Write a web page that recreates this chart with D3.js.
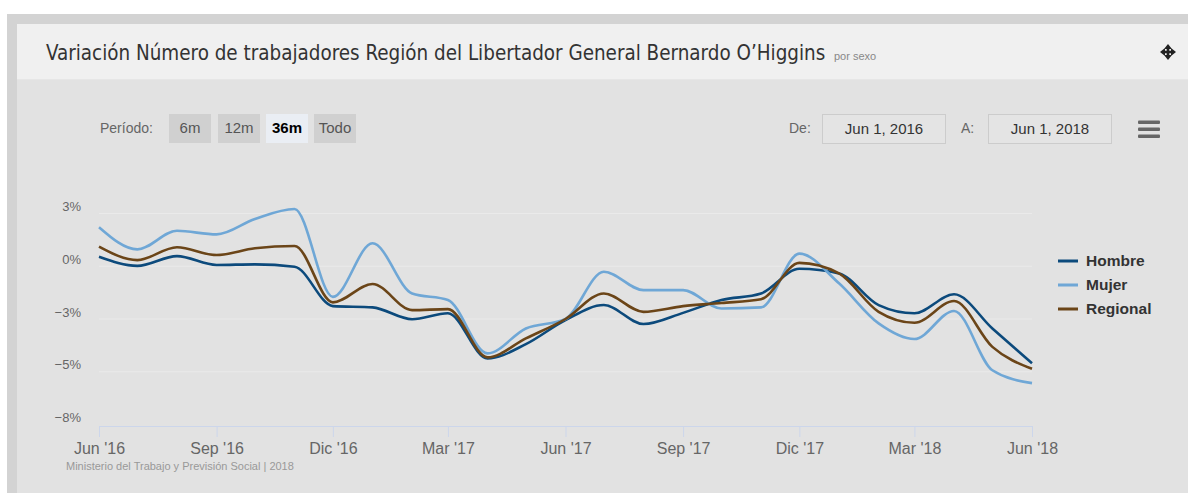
<!DOCTYPE html>
<html>
<head>
<meta charset="utf-8">
<script src="https://cdn.jsdelivr.net/npm/d3@7"></script>
<style>
  body { margin: 0; background: #fff; }
  svg { display: block; font-family: "Liberation Sans", Arial, sans-serif; }
</style>
</head>
<body>
<svg id="chart" width="1188" height="493"></svg>
<script>
const width = 1188, height = 493;
const svg = d3.select("#chart");

// data (monthly variation, %)
const months = ["2016-06","2016-07","2016-08","2016-09","2016-10","2016-11","2016-12",
  "2017-01","2017-02","2017-03","2017-04","2017-05","2017-06","2017-07","2017-08",
  "2017-09","2017-10","2017-11","2017-12","2018-01","2018-02","2018-03","2018-04",
  "2018-05","2018-06"];
const hombre   = [0.45, 0.02, 0.48, 0.06, 0.09, -0.02, -1.89, -1.95, -2.51, -2.23, -4.37, -3.69, -2.55,
  -1.84, -2.74, -2.21, -1.60, -1.29, -0.12, -0.34, -1.84, -2.23, -1.33, -2.95, -4.60];
const mujer    = [1.85, 0.80, 1.68, 1.51, 2.24, 2.71, -1.45, 1.09, -1.29, -1.60, -4.13, -2.95, -2.50,
  -0.26, -1.13, -1.13, -2.00, -1.95, 0.60, -0.81, -2.71, -3.45, -2.12, -4.93, -5.54];
const regional = [0.93, 0.29, 0.90, 0.53, 0.85, 0.96, -1.71, -0.84, -2.08, -2.03, -4.32, -3.42, -2.50,
  -1.29, -2.16, -1.89, -1.74, -1.56, 0.16, -0.34, -2.16, -2.68, -1.65, -3.82, -4.86];

const seriesNames  = ["Hombre", "Mujer", "Regional"];
const seriesColors = ["#0c4a7c", "#6fa7d6", "#6b4518"];
const seriesValues = [hombre, mujer, regional];

const xTicks = ["2016-06","2016-09","2016-12","2017-03","2017-06","2017-09","2017-12","2018-03","2018-06"];
const xTickLabels = ["Jun '16","Sep '16","Dic '16","Mar '17","Jun '17","Sep '17","Dic '17","Mar '18","Jun '18"];
const yTicks = [2.5, 0, -2.5, -5, -7.5];
const yTickLabels = ["3%", "0%", "\u22123%", "\u22125%", "\u22128%"];

const parse = d3.timeParse("%Y-%m");

// frame
svg.append("rect").attr("x", 7).attr("y", 14).attr("width", width - 7).attr("height", height - 14).attr("fill", "#d3d3d3");
svg.append("rect").attr("x", 17).attr("y", 24).attr("width", width - 17).attr("height", height - 24).attr("fill", "#e2e2e2");
svg.append("rect").attr("x", 17).attr("y", 24).attr("width", width - 17).attr("height", 55).attr("fill", "#f0f0f0");
svg.append("line").attr("x1", 17).attr("x2", width).attr("y1", 79.5).attr("y2", 79.5).attr("stroke", "#e6e6e6");

// title (font size fitted to the reference width)
const title = svg.append("text").attr("x", 46).attr("y", 60)
  .attr("font-family", "'Liberation Sans Narrow', 'DejaVu Sans Condensed', sans-serif")
  .attr("font-size", 21).attr("fill", "#333")
  .text("Variación Número de trabajadores Región del Libertador General Bernardo O\u2019Higgins");
const tw = title.node().getComputedTextLength();
if (tw > 780) title.attr("font-size", 21 * 780 / tw);
svg.append("text").attr("x", 834).attr("y", 60).attr("font-size", 11).attr("fill", "#888").text("por sexo");

// move icon
const mv = svg.append("g").attr("transform", "translate(1168,52)").attr("fill", "#222");
mv.append("path").attr("d", "M0,-8 L4,-3 L1.3,-3 L1.3,-1.3 L3,-1.3 L3,-4 L8,0 L3,4 L3,1.3 L1.3,1.3 L1.3,3 L4,3 L0,8 L-4,3 L-1.3,3 L-1.3,1.3 L-3,1.3 L-3,4 L-8,0 L-3,-4 L-3,-1.3 L-1.3,-1.3 L-1.3,-3 L-4,-3 Z");

// range selector
svg.append("text").attr("x", 100).attr("y", 133).attr("font-size", 14).attr("fill", "#666").text("Período:");
const buttons = ["6m", "12m", "36m", "Todo"];
const btnX = [169, 218, 266, 314];
buttons.forEach((b, i) => {
  const active = b === "36m";
  svg.append("rect").attr("x", btnX[i]).attr("y", 114).attr("width", 42).attr("height", 29)
    .attr("fill", active ? "#eaeef4" : "#d0d0d0");
  svg.append("text").attr("x", btnX[i] + 21).attr("y", 133).attr("text-anchor", "middle")
    .attr("font-size", 15).attr("font-weight", active ? "bold" : "normal")
    .attr("fill", active ? "#000" : "#555").text(b);
});

svg.append("text").attr("x", 789).attr("y", 133).attr("font-size", 14).attr("fill", "#666").text("De:");
svg.append("text").attr("x", 961).attr("y", 133).attr("font-size", 14).attr("fill", "#666").text("A:");
[[822, "Jun 1, 2016"], [988, "Jun 1, 2018"]].forEach(([x, t]) => {
  svg.append("rect").attr("x", x + 0.5).attr("y", 114.5).attr("width", 123).attr("height", 29)
    .attr("fill", "#e4e4e4").attr("stroke", "#cccccc");
  svg.append("text").attr("x", x + 62).attr("y", 134).attr("text-anchor", "middle")
    .attr("font-size", 15).attr("fill", "#333").text(t);
});
[122, 129, 136].forEach(y => {
  svg.append("rect").attr("x", 1138).attr("y", y - 1.5).attr("width", 22).attr("height", 3.5)
    .attr("rx", 1).attr("fill", "#666");
});

// scales
const x = d3.scaleTime().domain([parse(months[0]), parse(months[months.length - 1])]).range([99, 1032]);
const y = d3.scaleLinear().domain([-7.5, 2.5]).range([424.5, 213.5]);

// grid + y labels
const grid = svg.append("g");
yTicks.forEach((v, i) => {
  if (v !== -7.5) {
    grid.append("line").attr("x1", 99).attr("x2", 1032).attr("y1", y(v)).attr("y2", y(v))
      .attr("stroke", "#eaeaea").attr("stroke-width", 1);
  }
  grid.append("text").attr("x", 81).attr("y", y(v) - 7).attr("dy", "0.35em")
    .attr("text-anchor", "end").attr("font-size", 13).attr("fill", "#666").text(yTickLabels[i]);
});

// x axis
const xAxis = d3.axisBottom(x)
  .tickValues(xTicks.map(parse))
  .tickFormat((d, i) => xTickLabels[i])
  .tickSize(11).tickPadding(6);
const gx = svg.append("g").attr("transform", `translate(0,${y(-7.5) + 1.5})`).call(xAxis);
gx.select(".domain").attr("stroke", "#ccd6eb");
gx.selectAll(".tick line").attr("stroke", "#ccd6eb");
gx.selectAll(".tick text").attr("font-size", 16).attr("fill", "#666")
  .attr("font-family", "'Liberation Sans', Arial, sans-serif");

// lines
const line = d3.line()
  .x((d, i) => x(parse(months[i])))
  .y(d => y(d))
  .curve(d3.curveMonotoneX);

svg.append("g").selectAll("path")
  .data(seriesValues)
  .join("path")
    .attr("d", line)
    .attr("fill", "none")
    .attr("stroke", (d, i) => seriesColors[i])
    .attr("stroke-width", 2.6)
    .attr("stroke-linejoin", "round");

// legend
const legend = svg.append("g").attr("transform", "translate(1058,261)");
seriesNames.forEach((name, i) => {
  const g = legend.append("g").attr("transform", `translate(0,${i * 24})`);
  g.append("line").attr("x1", 0).attr("x2", 20).attr("y1", 0).attr("y2", 0)
    .attr("stroke", seriesColors[i]).attr("stroke-width", 3);
  g.append("text").attr("x", 28).attr("dy", "0.35em").attr("font-size", 15.5)
    .attr("font-weight", "bold").attr("fill", "#333").text(name);
});

// credits
svg.append("text").attr("x", 66).attr("y", 470).attr("font-size", 11).attr("fill", "#999")
  .text("Ministerio del Trabajo y Previsión Social | 2018");
</script>
</body>
</html>
